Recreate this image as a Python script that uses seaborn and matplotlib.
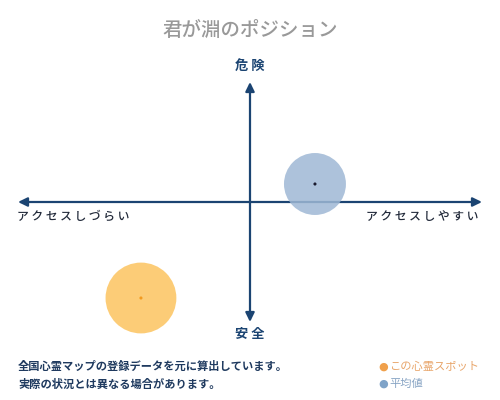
import matplotlib
matplotlib.use("Agg")
import matplotlib.pyplot as plt
import seaborn as sns
import pandas as pd

sns.set_theme(style="white")
plt.rcParams['font.family'] = ['Noto Sans CJK JP', 'DejaVu Sans']

# positions on the map (-1..1 on both axes) and bubble sizes
series = ["この心霊スポット", "平均値"]
access = [-0.47, 0.28]
danger = [-0.80, 0.15]
sizes = [2600, 1990]
fill_colors = ["#fcc45f", "#9fb8d5"]
dot_colors = ["#f29a1f", "#1a1a2e"]

title = "君が淵のポジション"
top_label = "危険"
bottom_label = "安全"
left_label = "アクセスしづらい"
right_label = "アクセスしやすい"
notes = ["全国心霊マップの登録データを元に算出しています。",
         "実際の状況とは異なる場合があります。"]
legend_colors = ["#f0a04b", "#7fa3c8"]
legend_text_colors = ["#e8a56a", "#86a3c3"]

navy = "#1b4472"

df = pd.DataFrame({"series": series, "x": access, "y": danger, "s": sizes})

fig = plt.figure(figsize=(5, 4), dpi=100)
ax = fig.add_axes([0.036, 0.195, 0.928, 0.6])
ax.set_xlim(-1, 1)
ax.set_ylim(-1, 1)
ax.axis("off")

for i, row in df.iterrows():
    sns.scatterplot(x=[row.x], y=[row.y], s=row.s, color=fill_colors[i],
                    alpha=0.85, edgecolor="none", ax=ax, zorder=3)
    sns.scatterplot(x=[row.x], y=[row.y], s=5, color=dot_colors[i],
                    edgecolor="none", ax=ax, zorder=4)
for coll in ax.collections:
    coll.set_clip_on(False)

# axes arrows
arrow = dict(arrowstyle="-|>,head_length=0.45,head_width=0.22", color=navy, lw=1.6,
             shrinkA=0, shrinkB=0)
ax.annotate("", xy=(1, 0), xytext=(0, 0), arrowprops=arrow, zorder=2)
ax.annotate("", xy=(-1, 0), xytext=(0, 0), arrowprops=arrow, zorder=2)
ax.annotate("", xy=(0, 1), xytext=(0, 0), arrowprops=arrow, zorder=2)
ax.annotate("", xy=(0, -1), xytext=(0, 0), arrowprops=arrow, zorder=2)

fig.text(0.5, 0.925, title, ha="center", va="center", fontsize=14,
         color="#999999", fontweight="medium")
fig.text(0.5, 0.835, " ".join(top_label), ha="center", va="center",
         fontsize=9.5, color=navy, fontweight="bold")
fig.text(0.5, 0.165, " ".join(bottom_label), ha="center", va="center",
         fontsize=9.5, color=navy, fontweight="bold")
fig.text(0.034, 0.458, " ".join(left_label), ha="left", va="center",
         fontsize=8.5, color="#222a3a", fontweight="medium")
fig.text(0.956, 0.458, " ".join(right_label), ha="right", va="center",
         fontsize=8.5, color="#222a3a", fontweight="medium")

for k, line in enumerate(notes):
    fig.text(0.036, 0.083 - k * 0.043, line, ha="left", va="center",
             fontsize=8.1, color="#1f3a5f", fontweight="bold")

for k, name in enumerate(series):
    fig.text(0.766, 0.083 - k * 0.043, "●", ha="center", va="center",
             fontsize=8, color=legend_colors[k], family=['DejaVu Sans'])
    fig.text(0.778, 0.083 - k * 0.043, name, ha="left", va="center",
             fontsize=8.1, color=legend_text_colors[k])

fig.savefig("out.png", dpi=100)
